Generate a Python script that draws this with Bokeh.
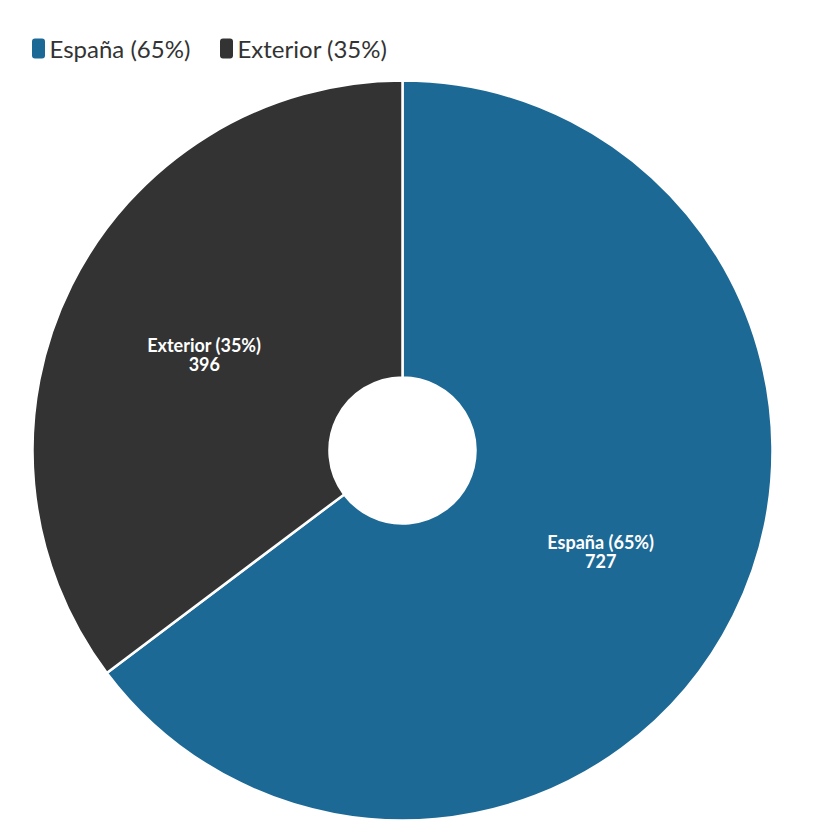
import math
from bokeh.plotting import figure
from bokeh.models import Range1d, ColumnDataSource
from bokeh.core.properties import value
from bokeh.embed import file_html
from bokeh.resources import INLINE

categories = ["España", "Exterior"]
values = [727, 396]
colors = ["#1d6996", "#333333"]

total = sum(values)
pcts = [round(v / total * 100) for v in values]
labels = [f"{c} ({p}%)" for c, p in zip(categories, pcts)]

W, H = 804, 822
PAGE_H = 838
p = figure(width=W, height=H, output_backend="svg", toolbar_location=None,
           x_range=Range1d(0, W), y_range=Range1d(PAGE_H - H, PAGE_H),
           min_border=0)
p.axis.visible = False
p.grid.visible = False
p.outline_line_color = None
p.background_fill_color = "white"
p.border_fill_color = "white"

cx, cy = 402, PAGE_H - 450
r_out, r_in = 370, 73

starts, ends, lx, ly = [], [], [], []
a = math.pi / 2
for v in values:
    span = 2 * math.pi * v / total
    s, e = a, a - span
    starts.append(s)
    ends.append(e)
    mid = (s + e) / 2
    rm = (r_out + r_in) / 2
    lx.append(cx + rm * math.cos(mid))
    ly.append(cy + rm * math.sin(mid))
    a = e

src = ColumnDataSource(dict(x=[cx] * len(values), y=[cy] * len(values),
                            start=starts, end=ends, color=colors,
                            lx=lx, ly=ly, label=labels,
                            val=[str(v) for v in values]))

p.annular_wedge(x="x", y="y", inner_radius=r_in, outer_radius=r_out,
                start_angle="start", end_angle="end", direction="clock",
                fill_color="color", line_color="white", line_width=2.5, source=src)

p.text(x="lx", y="ly", text="label", source=src, text_color="white",
       text_font=value("Lato"), text_font_style="bold", text_font_size="18px",
       text_align="center", text_baseline="bottom", y_offset=4)
p.text(x="lx", y="ly", text="val", source=src, text_color="white",
       text_font=value("Lato"), text_font_style="bold", text_font_size="18px",
       text_align="center", text_baseline="top", y_offset=5)

# legend
leg_x = [31, 219]
leg_y = PAGE_H - 48
leg = ColumnDataSource(dict(x=[x + 7 for x in leg_x], y=[leg_y] * 2,
                            tx=[x + 18 for x in leg_x], ty=[leg_y] * 2,
                            color=colors, label=labels))
p.rect(x="x", y="y", width=13, height=20, fill_color="color", line_color=None,
       border_radius=3, source=leg)
p.text(x="tx", y="ty", text="label", source=leg, text_color="#333333",
       text_font=value("Lato"), text_font_size="24px", text_align="left",
       text_baseline="middle")

open("out.html", "w").write(file_html(p, INLINE))
